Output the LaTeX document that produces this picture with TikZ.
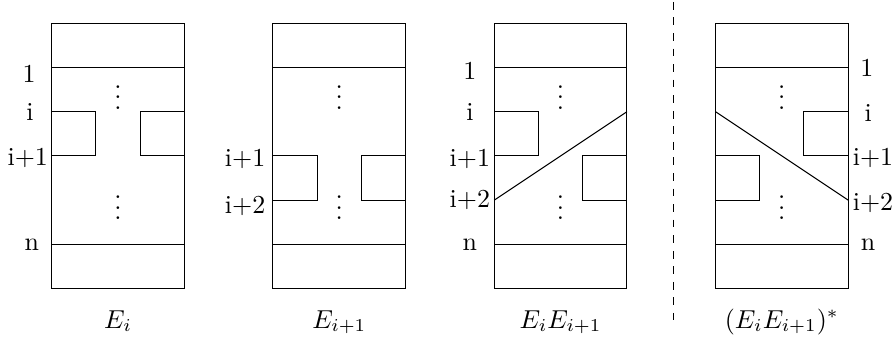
\documentclass[tikz,border=0pt]{standalone}

\tikzset{
    rowlbl/.style={inner sep=1pt},
    caption/.style={anchor=base},
}

\begin{document}
\begin{tikzpicture}[x=0.6cm, y=0.6cm]
    \useasboundingbox (-1.168,-1.182) rectangle (19.08,6.524);
    \foreach \x/\cap/\nm in {0/{$E_i$}/a, 5/{$E_{i+1}$}/b, 10/{$E_iE_{i+1}$}/c, 15/{$(E_iE_{i+1})^*$}/d} {
        \draw (\x,0) rectangle (\x+3,6);
        \draw (\x,5) -- (\x+3,5);
        \draw (\x,1) -- (\x+3,1);
        \node (dotsup\nm) at (\x+1.5,4.5) {$\vdots$};
        \node (dotsdn\nm) at (\x+1.5,2) {$\vdots$};
        \node[caption] (cap\nm) at (\x+1.5,-0.89) {\cap};
    }
    % E_i
    \draw (0,4) -| (1,3) -- (0,3);
    \draw (3,4) -| (2,3) -- (3,3);
    \node[rowlbl] (oneA) at (-0.51,4.86) {1};
    \node[rowlbl] (iA) at (-0.49,4.0) {i};
    \node[rowlbl] (ipA) at (-0.54,2.96) {i+1};
    \node[rowlbl] (nA) at (-0.45,0.99) {n};
    % E_{i+1}
    \draw (5,3) -| (6,2) -- (5,2);
    \draw (8,3) -| (7,2) -- (8,2);
    \node[rowlbl] (ipB) at (4.37,2.93) {i+1};
    \node[rowlbl] (ippB) at (4.37,1.86) {i+2};
    % E_i E_{i+1}
    \draw (10,4) -| (11,3) -- (10,3);
    \draw (13,3) -| (12,2) -- (13,2);
    \draw (10,2) -- (13,4);
    \node[rowlbl] (oneC) at (9.45,4.92) {1};
    \node[rowlbl] (iC) at (9.45,4.0) {i};
    \node[rowlbl] (ipC) at (9.45,2.93) {i+1};
    \node[rowlbl] (ippC) at (9.45,2.0) {i+2};
    \node[rowlbl] (nC) at (9.45,0.99) {n};
    % separator
    \draw[dashed] (14.06,6.48) -- (14.06,-0.71);
    % (E_i E_{i+1})^*
    \draw (18,4) -| (17,3) -- (18,3);
    \draw (15,3) -| (16,2) -- (15,2);
    \draw (15,4) -- (18,2);
    \node[rowlbl] (oneD) at (18.42,4.99) {1};
    \node[rowlbl] (iD) at (18.45,3.98) {i};
    \node[rowlbl] (ipD) at (18.56,2.95) {i+1};
    \node[rowlbl] (ippD) at (18.56,1.94) {i+2};
    \node[rowlbl] (nD) at (18.45,0.99) {n};
\end{tikzpicture}
\end{document}
